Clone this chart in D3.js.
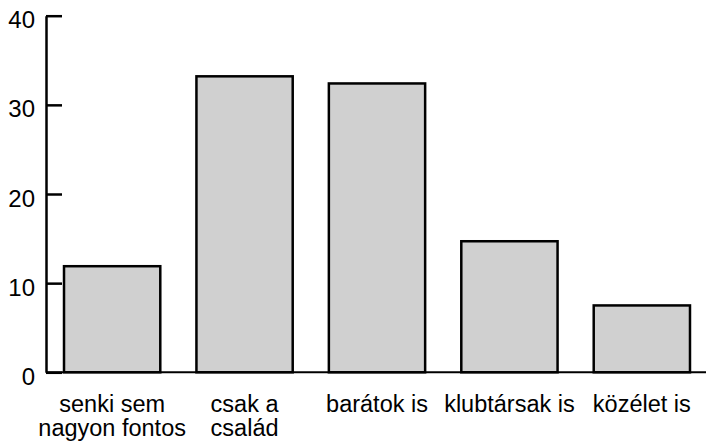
<!DOCTYPE html>
<html>
<head>
<meta charset="utf-8">
<script src="https://cdn.jsdelivr.net/npm/d3@7"></script>
<style>
  body { margin: 0; background: #fff; }
  svg { display: block; font-family: "Liberation Sans", Arial, Helvetica, sans-serif; }
</style>
</head>
<body>
<div id="chart"></div>
<script>
// chart data
const categories = [
    ["senki sem", "nagyon fontos"],
    ["csak a", "család"],
    ["barátok is"],
    ["klubtársak is"],
    ["közélet is"]
];
const values = [11.9, 33.2, 32.4, 14.7, 7.5];
const yTicks = [0, 10, 20, 30, 40];

const width = 706, height = 443;

const svg = d3.select("#chart").append("svg")
    .attr("width", width)
    .attr("height", height);

// scales
const x = d3.scaleBand()
    .domain(d3.range(values.length))
    .range([46, 708])
    .paddingInner(0.273)
    .paddingOuter(0.136);

const y = d3.scaleLinear()
    .domain([0, 40])
    .range([372.3, 15.7]);

// bars
svg.selectAll(".bar")
    .data(values)
    .enter().append("rect")
    .attr("class", "bar")
    .attr("x", (d, i) => x(i))
    .attr("y", d => y(d))
    .attr("width", x.bandwidth())
    .attr("height", d => y(0) - y(d))
    .style("fill", "#d0d0d0")
    .style("stroke", "#000")
    .style("stroke-width", 2.5);

// baseline
svg.append("line")
    .attr("x1", 46).attr("x2", width)
    .attr("y1", y(0)).attr("y2", y(0))
    .style("stroke", "#000")
    .style("stroke-width", 2);

// y axis, ticks pointing inward
const yAxis = svg.append("g")
    .attr("transform", "translate(46,0)")
    .call(d3.axisLeft(y).tickValues(yTicks).tickSizeInner(-16).tickSizeOuter(0).tickPadding(11));

yAxis.select(".domain").style("stroke-width", 2.5);
yAxis.selectAll(".tick line").style("stroke-width", 2.5);
yAxis.selectAll(".tick text")
    .style("font-size", "24px")
    .style("font-family", "'Liberation Sans', Arial, Helvetica, sans-serif")
    .attr("fill", "#000")
    .attr("dy", "0.5em");

// category labels
const labels = svg.selectAll(".cat")
    .data(categories)
    .enter().append("text")
    .attr("class", "cat")
    .attr("text-anchor", "middle")
    .style("font-size", "23.5px")
    .attr("transform", (d, i) => `translate(${x(i) + x.bandwidth() / 2}, 412)`);

labels.selectAll("tspan")
    .data(d => d)
    .enter().append("tspan")
    .attr("x", 0)
    .attr("y", (d, j) => j * 24)
    .text(d => d);
</script>
</body>
</html>
